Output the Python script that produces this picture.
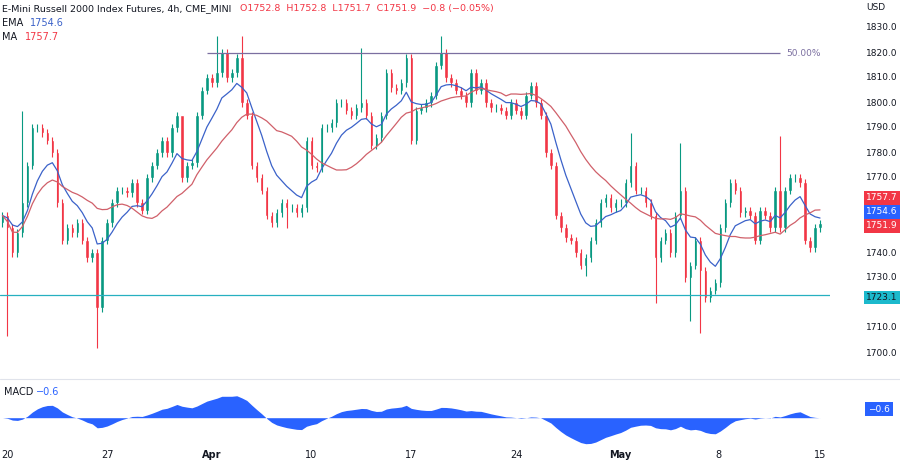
import numpy as np, pandas as pd, matplotlib
matplotlib.use("Agg")
import matplotlib.pyplot as plt, seaborn as sns

closes = [1755,1750,1740,1748,1760,1775,1790,1790,1788,1785,1780,1760,1745,1750,1748,1752,1745,1738,1740,1718,
          1745,1752,1760,1765,1765,1764,1768,1760,1757,1770,1775,1780,1785,1780,1790,1795,1770,1775,1776,1795,
          1805,1810,1808,1812,1820,1810,1812,1818,1800,1795,1775,1770,1765,1755,1752,1756,1760,1758,1758,1756,
          1758,1785,1775,1774,1790,1790,1792,1800,1800,1797,1795,1798,1800,1795,1783,1786,1795,1812,1806,1805,
          1808,1818,1785,1797,1798,1800,1803,1815,1820,1810,1808,1805,1803,1800,1812,1805,1808,1800,1798,1798,
          1797,1795,1800,1797,1795,1803,1807,1800,1795,1780,1775,1755,1750,1746,1745,1740,1735,1738,1745,1752,
          1760,1762,1758,1760,1760,1768,1775,1765,1765,1760,1755,1738,1745,1748,1740,1755,1765,1730,1735,1745,
          1733,1722,1725,1728,1750,1760,1768,1765,1756,1757,1755,1745,1757,1755,1750,1765,1750,1765,1770,1770,
          1768,1745,1742,1750,1751.9]
first_open = 1752
big_highs = {4: 1797, 43: 1827, 48: 1827, 72: 1822, 88: 1827, 126: 1788, 136: 1784, 156: 1787, 36: 1790}
big_lows = {1: 1707, 19: 1702, 131: 1720, 140: 1708, 138: 1713, 57: 1750, 117: 1731}
tick_pos = [1, 21, 42, 62, 82, 103, 124, 143.6, 164]
tick_lab = ["20", "27", "Apr", "10", "17", "24", "May", "8", "15"]
fib_level = 1820.0
support = 1723.1

c = np.array(closes, float)
o = np.concatenate([[first_open], c[:-1]])
h = np.maximum(o, c) + 1.5
l = np.minimum(o, c) - 1.5
for k, v in big_highs.items(): h[k] = v
for k, v in big_lows.items(): l[k] = v
s = pd.Series(c)
ema = s.ewm(span=9, adjust=False).mean()
ma = s.rolling(20, min_periods=1).mean()
macd = s.ewm(span=12, adjust=False).mean() - s.ewm(span=26, adjust=False).mean()

sns.set_style("white")
plt.rcParams['font.family'] = ['DejaVu Sans']
fig = plt.figure(figsize=(9, 4.62), dpi=100)
W, H = 900, 462
ax = fig.add_axes([0, 1-378/H, 830/W, 378/H])
ax2 = fig.add_axes([0, 1-445/H, 830/W, 65/H])
G, R = "#089981", "#f23645"
x = np.arange(len(c))
cols = [G if cc >= oo else R for oo, cc in zip(o, c)]
ax.vlines(x, l, h, colors=cols, lw=0.8)
ax.bar(x, np.abs(c-o)+0.3, bottom=np.minimum(o, c), width=0.7, color=cols)
sns.lineplot(x=x, y=ema.values, ax=ax, color="#3b62c9", lw=0.9)
sns.lineplot(x=x, y=ma.values, ax=ax, color="#d0606a", lw=0.9)
ax.hlines(fib_level, 41, 156, color="#7b6fa0", lw=0.9)
ax.text(157.3, fib_level, "50.00%", color="#7b6fa0", fontsize=6.5, va="center")
ax.axhline(support, color="#26b0c0", lw=0.9)
ax.set_xlim(-0.5, 166)
ax.set_ylim(1690, 1841.2)
for a in (ax, ax2):
    a.set_xticks([]); a.set_yticks([])
    for sp in a.spines.values(): sp.set_visible(False)
ax2.fill_between(x, macd.values, 0, color="#2962ff", lw=0)
ax2.set_xlim(-0.5, 166)
m = max(abs(macd.max()), abs(macd.min()))
ax2.set_ylim(-m*1.05, m*1.45)
fig.add_artist(plt.Line2D([0, 1], [1-379/H]*2, color="#e0e3eb", lw=0.8))

def px(y): return 1 - y/H
fs = 7
rs = 6.5
fig.text(2/W, px(9), "E-Mini Russell 2000 Index Futures, 4h, CME_MINI", fontsize=6.8, color="#131722", va="center")
fig.text(240/W, px(9), "O1752.8  H1752.8  L1751.7  C1751.9  −0.8 (−0.05%)", fontsize=6.8, color=R, va="center")
fig.text(2/W, px(23), "EMA", fontsize=fs, color="#131722", va="center")
fig.text(30/W, px(23), "1754.6", fontsize=fs, color="#3b62c9", va="center")
fig.text(2/W, px(37), "MA", fontsize=fs, color="#131722", va="center")
fig.text(25/W, px(37), "1757.7", fontsize=fs, color=R, va="center")
fig.text(4/W, px(392), "MACD", fontsize=fs, color="#131722", va="center")
fig.text(36/W, px(392), "−0.6", fontsize=fs, color="#2962ff", va="center")
fig.text(866/W, px(7), "USD", fontsize=rs, color="#131722", va="center", ha="left")
for v in range(1700, 1831, 10):
    yy = 28 + (1830-v)*2.5
    if v in (1750, 1760, 1720): continue
    fig.text(866/W, px(yy), f"{v:.1f}", fontsize=rs, color="#131722", va="center", ha="left")
for val, col, yy in [("1757.7", R, 198), ("1754.6", "#2962ff", 212), ("1751.9", R, 226),
                     ("1723.1", "#1cb9cc", 297.5)]:
    fig.text(866/W, px(yy), val, fontsize=rs, color="white" if col != "#1cb9cc" else "#131722",
             va="center", ha="left",
             bbox=dict(boxstyle="square,pad=0.25", fc=col, ec="none"))
fig.text(868/W, px(409), "−0.6", fontsize=rs, color="white", va="center", ha="left",
         bbox=dict(boxstyle="square,pad=0.3", fc="#2962ff", ec="none"))
for p, t in zip(tick_pos, tick_lab):
    xx = (p + 0.5) / 166.5 * 830
    fig.text(xx/W, px(455), t, fontsize=fs, color="#131722", va="center", ha="center",
             fontweight="bold" if t in ("Apr", "May") else "normal")
fig.savefig("out.png", dpi=100)
